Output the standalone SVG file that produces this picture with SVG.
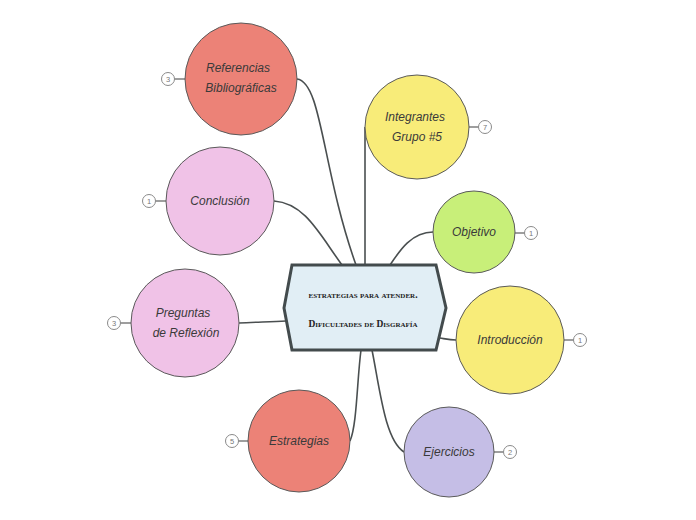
<svg xmlns="http://www.w3.org/2000/svg" width="696" height="520" viewBox="0 0 696 520">
<style>
.node{stroke:#5a5a5a;stroke-width:1}
.lbl{font-family:"Liberation Sans","DejaVu Sans",sans-serif;font-style:italic;font-size:12px;fill:#3a3a3a;text-anchor:middle}
.conn{fill:none;stroke:#4a4f50;stroke-width:1.6}
.bl{fill:none;stroke:#6a6a6a;stroke-width:1.3}
.badge{fill:#fff;stroke:#8a8a8a;stroke-width:1}
.bt{font-family:"Liberation Sans",sans-serif;font-size:7.5px;fill:#777;text-anchor:middle}
.ctr{font-family:"Liberation Serif",serif;font-variant:small-caps;font-size:9.5px;font-weight:bold;fill:#222;text-anchor:middle}
</style>
<rect width="696" height="520" fill="#fff"/>
<g id="connectors">
<path class="conn" d="M297,79 C322,82 322,170 356,265"/>
<path class="conn" d="M365,127 L365,265"/>
<path class="conn" d="M274,201 C305,203 320,235 342,265"/>
<path class="conn" d="M433,232 C412,232 400,250 390,265"/>
<path class="conn" d="M239,323 C255,322 270,322 286,321"/>
<path class="conn" d="M440,338 C446,339 450,340 456,340"/>
<path class="conn" d="M350,441 C357,425 357,380 361,350"/>
<path class="conn" d="M404,452 C385,440 380,390 372,350"/>
</g>
<g id="center">
<polygon points="292,265 436,265 446,308 436,350 292,350 284,308" fill="#e1eef5" stroke="#434b4d" stroke-width="3"/>
<text class="ctr" x="363" y="298">estrategias para atender.</text>
<text class="ctr" x="363" y="327">Dificultades de Disgrafía</text>
</g>
<g id="referencias">
<line class="bl" x1="174" y1="79" x2="185" y2="79"/>
<circle class="badge" cx="168" cy="79" r="6.5"/><text class="bt" x="168" y="81.5">3</text>
<circle class="node" cx="241" cy="79" r="56" fill="#ec8277"/>
<text class="lbl" x="238" y="72">Referencias</text>
<text class="lbl" x="241" y="92">Bibliográficas</text>
</g>
<g id="integrantes">
<line class="bl" x1="469" y1="127" x2="479" y2="127"/>
<circle class="badge" cx="485" cy="127" r="6.5"/><text class="bt" x="485" y="129.5">7</text>
<circle class="node" cx="417" cy="127" r="52" fill="#f8ec79"/>
<text class="lbl" x="415" y="121">Integrantes</text>
<text class="lbl" x="417" y="141">Grupo #5</text>
</g>
<g id="conclusion">
<line class="bl" x1="155" y1="201" x2="166" y2="201"/>
<circle class="badge" cx="149" cy="201" r="6.5"/><text class="bt" x="149" y="203.5">1</text>
<circle class="node" cx="220" cy="201" r="54" fill="#f0c2e7"/>
<text class="lbl" x="220" y="205">Conclusión</text>
</g>
<g id="objetivo">
<line class="bl" x1="515" y1="233" x2="525" y2="233"/>
<circle class="badge" cx="531" cy="233" r="6.5"/><text class="bt" x="531" y="235.5">1</text>
<circle class="node" cx="474" cy="232" r="41" fill="#c8ef79"/>
<text class="lbl" x="474" y="236">Objetivo</text>
</g>
<g id="preguntas">
<line class="bl" x1="120" y1="323" x2="131" y2="323"/>
<circle class="badge" cx="114" cy="323" r="6.5"/><text class="bt" x="114" y="325.5">3</text>
<circle class="node" cx="185" cy="323" r="54" fill="#f0c2e7"/>
<text class="lbl" x="183" y="317">Preguntas</text>
<text class="lbl" x="186" y="337">de Reflexión</text>
</g>
<g id="introduccion">
<line class="bl" x1="564" y1="340" x2="574" y2="340"/>
<circle class="badge" cx="580" cy="340" r="6.5"/><text class="bt" x="580" y="342.5">1</text>
<circle class="node" cx="510" cy="340" r="54" fill="#f8ec79"/>
<text class="lbl" x="510" y="344">Introducción</text>
</g>
<g id="estrategias">
<line class="bl" x1="238" y1="441" x2="248" y2="441"/>
<circle class="badge" cx="232" cy="441" r="6.5"/><text class="bt" x="232" y="443.5">5</text>
<circle class="node" cx="299" cy="441" r="51" fill="#ec8277"/>
<text class="lbl" x="299" y="445">Estrategias</text>
</g>
<g id="ejercicios">
<line class="bl" x1="494" y1="452" x2="504" y2="452"/>
<circle class="badge" cx="510" cy="452" r="6.5"/><text class="bt" x="510" y="454.5">2</text>
<circle class="node" cx="449" cy="452" r="45" fill="#c5bee6"/>
<text class="lbl" x="449" y="456">Ejercicios</text>
</g>
</svg>
